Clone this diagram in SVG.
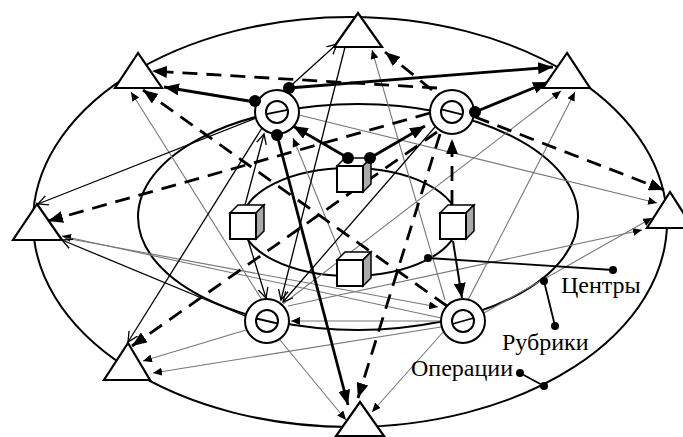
<svg xmlns="http://www.w3.org/2000/svg" width="683" height="437" viewBox="0 0 683 437">
<style>
.ring{fill:none;stroke:#000;stroke-width:2}
.tri{fill:#fff;stroke:#000;stroke-width:2.2;stroke-linejoin:miter}
.op{fill:#fff;stroke:#000;stroke-width:2}
.th{fill:none;stroke:#000;stroke-width:1.8}
.front{fill:#fff;stroke:#000;stroke-width:2}
.top{fill:#fff;stroke:#000;stroke-width:1.5}
.side{fill:#aaa;stroke:#000;stroke-width:1.5}
.thick{stroke:#000;stroke-width:2.8;fill:none;marker-end:url(#ab)}
.dash{stroke:#000;stroke-width:2.8;fill:none;stroke-dasharray:15 9;marker-end:url(#ab)}
.thin{stroke:#000;stroke-width:1.3;fill:none;marker-end:url(#ao)}
.gray{stroke:#777;stroke-width:1.1;fill:none;marker-end:url(#as)}
.ptr{stroke:#000;stroke-width:1.8;fill:none}
.lbl{font-family:"Liberation Serif","Times New Roman",serif;font-size:24px;fill:#000}
</style>
<defs>
<marker id="ab" markerWidth="16" markerHeight="12" refX="15" refY="6" orient="auto" markerUnits="userSpaceOnUse"><path d="M0,0 L15,6 L0,12 z" fill="#000"/></marker>
<marker id="as" markerWidth="10" markerHeight="8" refX="9" refY="4" orient="auto" markerUnits="userSpaceOnUse"><path d="M0,0 L9,4 L0,8 z" fill="#000"/></marker>
<marker id="ao" markerWidth="12" markerHeight="12" refX="10" refY="6" orient="auto" markerUnits="userSpaceOnUse"><path d="M0,1 L10,6 L0,11" fill="none" stroke="#000" stroke-width="1.3"/></marker>
</defs>
<rect width="683" height="437" fill="#fff"/>
<g id="rings">
<ellipse class="ring" cx="350" cy="222" rx="317" ry="205"/>
<ellipse class="ring" cx="358" cy="217" rx="220" ry="113"/>
<ellipse class="ring" cx="350" cy="222" rx="108" ry="54"/>
</g>
<g id="connectors">
<line class="gray" x1="262" y1="300" x2="131" y2="92"/>
<line class="gray" x1="445" y1="300" x2="372" y2="50"/>
<line class="gray" x1="283" y1="304" x2="561" y2="91"/>
<line class="gray" x1="468" y1="300" x2="575" y2="92"/>
<line class="gray" x1="441" y1="318" x2="62" y2="236"/>
<line class="gray" x1="299" y1="115" x2="657" y2="203"/>
<line class="gray" x1="288" y1="306" x2="642" y2="230"/>
<line class="gray" x1="484" y1="313" x2="652" y2="218"/>
<line class="gray" x1="246" y1="330" x2="143" y2="361"/>
<line class="gray" x1="441" y1="327" x2="153" y2="373"/>
<line class="gray" x1="444" y1="331" x2="372" y2="412"/>
<line class="gray" x1="280" y1="340" x2="346" y2="420"/>
<line class="gray" x1="343" y1="260" x2="293" y2="138"/>
<line class="gray" x1="441" y1="321" x2="291" y2="321"/>
<line class="gray" x1="65" y1="238" x2="438" y2="307"/>
<line class="thin" x1="285" y1="91" x2="337" y2="44"/>
<line class="thin" x1="256" y1="118" x2="38" y2="204"/>
<line class="thin" x1="262" y1="128" x2="128" y2="342"/>
<line class="thin" x1="245" y1="205" x2="264" y2="134"/>
<line class="thin" x1="248" y1="240" x2="266" y2="298"/>
<line class="thin" x1="345" y1="47" x2="281" y2="300"/>
<line class="thin" x1="245" y1="316" x2="62" y2="240"/>
<line class="thin" x1="435" y1="127" x2="283" y2="302"/>
<line class="dash" x1="437" y1="88" x2="152" y2="71"/>
<line class="dash" x1="432" y1="90" x2="385" y2="52"/>
<line class="dash" x1="430" y1="113" x2="48" y2="221"/>
<line class="dash" x1="447" y1="306" x2="143" y2="90"/>
<line class="dash" x1="475" y1="117" x2="664" y2="190"/>
<line class="dash" x1="437" y1="132" x2="132" y2="346"/>
<line class="dash" x1="440" y1="134" x2="358" y2="398"/>
<line class="dash" x1="452" y1="205" x2="452" y2="139"/>
<line class="thick" x1="255" y1="102" x2="164" y2="87"/>
<line class="thick" x1="289" y1="88" x2="553" y2="67"/>
<line class="thick" x1="475" y1="112" x2="548" y2="82"/>
<line class="thick" x1="277" y1="135" x2="348" y2="405"/>
<line class="thick" x1="348" y1="158" x2="293" y2="126"/>
<line class="thick" x1="370" y1="158" x2="425" y2="126"/>
<line class="thick" style="stroke-width:2" x1="453" y1="241" x2="462" y2="298"/>
</g>
<g id="tri-top"><polygon class="tri" points="358,13 334,47 382,47"/></g>
<g id="tri-top-left"><polygon class="tri" points="138,53 115,88 162,88"/></g>
<g id="tri-top-right"><polygon class="tri" points="567,53 543,88 590,88"/></g>
<g id="tri-left"><polygon class="tri" points="37,204 13,240 62,240"/></g>
<g id="tri-right"><polygon class="tri" points="670,192 647,228 693,228"/></g>
<g id="tri-bottom-left"><polygon class="tri" points="128,343 104,380 150,380"/></g>
<g id="tri-bottom"><polygon class="tri" points="360,402 336,436 384,436"/></g>
<g id="op-top-left"><circle class="op" cx="277" cy="112" r="22"/><circle class="op" cx="277" cy="112" r="11"/><line class="th" x1="266.2" y1="114.2" x2="287.8" y2="109.8"/></g>
<g id="op-top-right"><circle class="op" cx="452" cy="112" r="22"/><circle class="op" cx="452" cy="112" r="11"/><line class="th" x1="441.3" y1="109.4" x2="462.7" y2="114.6"/></g>
<g id="op-bottom-left"><circle class="op" cx="267" cy="321" r="22"/><circle class="op" cx="267" cy="321" r="11"/><line class="th" x1="256.3" y1="318.5" x2="277.7" y2="323.5"/></g>
<g id="op-bottom-right"><circle class="op" cx="463" cy="321" r="22"/><circle class="op" cx="463" cy="321" r="11"/><line class="th" x1="452.4" y1="324" x2="473.6" y2="318"/></g>
<g id="cube-top"><polygon class="top" points="337,166 345,158 371,158 363,166"/><polygon class="side" points="363,166 371,158 371,184 363,192"/><rect class="front" x="337" y="166" width="26" height="26"/></g>
<g id="cube-left"><polygon class="top" points="230,213 238,205 264,205 256,213"/><polygon class="side" points="256,213 264,205 264,231 256,239"/><rect class="front" x="230" y="213" width="26" height="26"/></g>
<g id="cube-right"><polygon class="top" points="440,213 448,205 474,205 466,213"/><polygon class="side" points="466,213 474,205 474,231 466,239"/><rect class="front" x="440" y="213" width="26" height="26"/></g>
<g id="cube-bottom"><polygon class="top" points="337,260 345,252 371,252 363,260"/><polygon class="side" points="363,260 371,252 371,278 363,286"/><rect class="front" x="337" y="260" width="26" height="26"/></g>
<g id="dots">
<circle cx="255" cy="101" r="6"/><circle cx="289" cy="88" r="6"/><circle cx="277" cy="135" r="6"/>
<circle cx="475" cy="112" r="6"/><circle cx="348" cy="158" r="6"/><circle cx="370" cy="158" r="6"/>
</g>
<g id="label-centers"><line class="ptr" x1="428" y1="258" x2="613" y2="270"/><circle cx="428" cy="258" r="4"/><circle cx="613" cy="270" r="4"/><text class="lbl" x="561" y="293">Центры</text></g>
<g id="label-rubrics"><line class="ptr" x1="544" y1="281" x2="555" y2="326"/><circle cx="544" cy="281" r="4"/><circle cx="555" cy="326" r="4"/><text class="lbl" x="502" y="350">Рубрики</text></g>
<g id="label-ops"><line class="ptr" x1="520" y1="373" x2="544" y2="386"/><circle cx="520" cy="373" r="4"/><circle cx="544" cy="386" r="4"/><text class="lbl" x="411" y="376">Операции</text></g>
</svg>
